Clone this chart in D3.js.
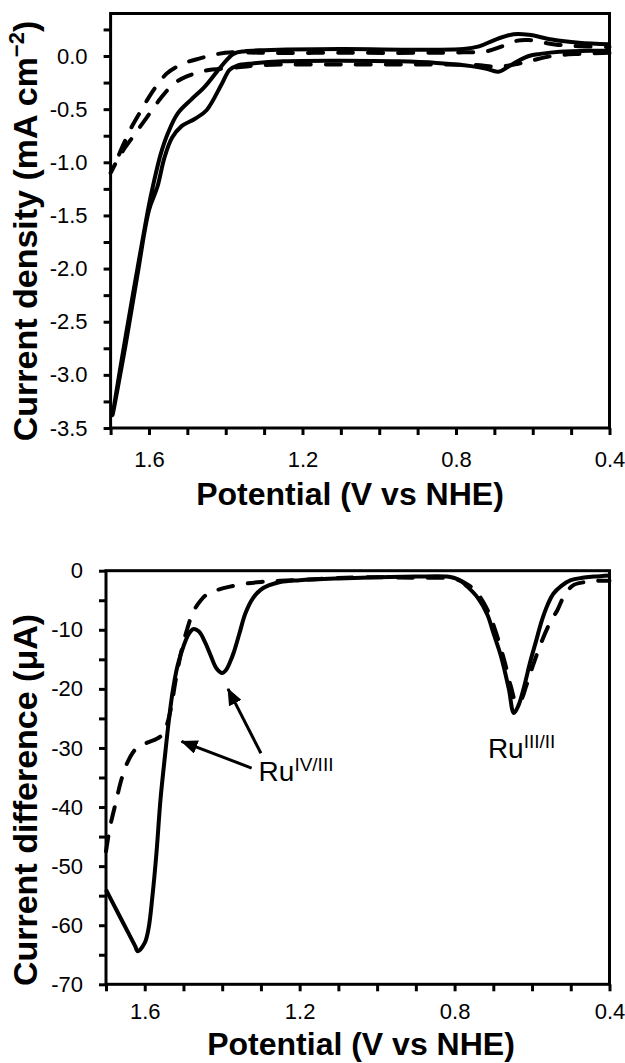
<!DOCTYPE html>
<html lang="en">
<head>
<meta charset="UTF-8"/>
<title>Ru complex CV and DPV</title>
<script src="https://d3js.org/d3.v7.min.js"></script>
<style>
  body { margin: 0; background: #fff; }
  svg { display: block; font-family: 'Liberation Sans', Arial, sans-serif; }
  .tick text { font-size: 22px; fill: #000; }
  .tick line { stroke: #000; stroke-width: 3; }
  .frame { fill: none; stroke: #000; stroke-width: 3; }
  .title { font-size: 32px; font-weight: bold; fill: #000; }
  .ytitle { font-size: 34px; }
  .trace { fill: none; stroke: #000; stroke-width: 4; stroke-linejoin: round; }
  .dashed { stroke-dasharray: 15 15; stroke-linecap: round; }
  .note { font-size: 28px; fill: #000; }
  .arrow { stroke: #000; stroke-width: 3; }
</style>
</head>
<body>
<svg width="625" height="1063"></svg>
<script>
// ---- top panel: cyclic voltammograms (mA cm-2) ----
const cvSolidFwdE = [0.40, 0.45, 0.53, 0.58, 0.61, 0.65, 0.69, 0.72, 0.76, 0.85, 0.95, 1.10, 1.25, 1.33, 1.37, 1.39, 1.41, 1.45, 1.48, 1.515, 1.54, 1.56, 1.578, 1.60, 1.63, 1.66, 1.695];
const cvSolidFwdJ = [0.05, 0.05, 0.04, 0.02, 0.0, -0.07, -0.148, -0.12, -0.095, -0.065, -0.05, -0.045, -0.05, -0.07, -0.09, -0.13, -0.26, -0.51, -0.59, -0.66, -0.77, -0.96, -1.23, -1.45, -2.06, -2.70, -3.38];
const cvSolidRevE = [1.66, 1.63, 1.60, 1.59, 1.57, 1.55, 1.525, 1.49, 1.455, 1.41, 1.38, 1.35, 1.30, 1.10, 0.90, 0.78, 0.74, 0.70, 0.65, 0.61, 0.55, 0.48, 0.40];
const cvSolidRevJ = [-2.62, -2.0, -1.40, -1.23, -0.93, -0.72, -0.54, -0.41, -0.29, -0.09, 0.02, 0.045, 0.055, 0.065, 0.06, 0.065, 0.09, 0.15, 0.205, 0.2, 0.155, 0.125, 0.11];

const cvDashFwdE = [0.40, 0.48, 0.55, 0.60, 0.64, 0.69, 0.75, 0.90, 1.10, 1.30, 1.38, 1.456, 1.50, 1.535, 1.57, 1.604, 1.64, 1.673, 1.70];
const cvDashFwdJ = [0.03, 0.02, 0.0, -0.04, -0.075, -0.10, -0.085, -0.08, -0.08, -0.085, -0.11, -0.14, -0.19, -0.26, -0.40, -0.57, -0.75, -0.92, -1.10];
const cvDashRevE = [1.69, 1.67, 1.647, 1.625, 1.604, 1.58, 1.552, 1.51, 1.465, 1.42, 1.378, 1.30, 1.10, 0.90, 0.78, 0.72, 0.68, 0.64, 0.61, 0.57, 0.52, 0.46, 0.40];
const cvDashRevJ = [-1.03, -0.86, -0.68, -0.54, -0.41, -0.28, -0.16, -0.07, -0.02, 0.02, 0.035, 0.03, 0.03, 0.03, 0.035, 0.045, 0.09, 0.145, 0.15, 0.125, 0.10, 0.09, 0.085];

// ---- bottom panel: differential pulse (uA) ----
const dpvSolidE = [1.70, 1.67, 1.64, 1.625, 1.618, 1.60, 1.59, 1.58, 1.57, 1.559, 1.548, 1.538, 1.528, 1.515, 1.50, 1.487, 1.475, 1.46, 1.445, 1.43, 1.415, 1.40, 1.39, 1.38, 1.37, 1.355, 1.34, 1.32, 1.30, 1.28, 1.25, 1.20, 1.10, 1.00, 0.90, 0.82, 0.79, 0.767, 0.74, 0.715, 0.70, 0.68, 0.66, 0.647, 0.635, 0.62, 0.605, 0.59, 0.575, 0.56, 0.545, 0.525, 0.50, 0.47, 0.44, 0.40];
const dpvSolidI = [-54.0, -57.8, -61.6, -63.5, -64.4, -63.0, -60.5, -55.0, -48.0, -38.5, -31.5, -25.5, -20.5, -16.0, -12.8, -10.8, -9.9, -10.3, -12.0, -14.3, -16.5, -17.3, -16.8, -15.5, -13.8, -10.5, -7.2, -4.6, -3.2, -2.5, -1.9, -1.6, -1.3, -1.1, -1.0, -1.0, -1.5, -2.7, -4.6, -7.5, -10.5, -14.5, -20.0, -24.1, -22.8, -19.5, -15.5, -12.0, -8.5, -5.8, -3.9, -2.6, -1.6, -1.2, -1.0, -0.8];
const dpvDashE = [1.70, 1.69, 1.675, 1.66, 1.645, 1.625, 1.61, 1.59, 1.57, 1.555, 1.545, 1.533, 1.52, 1.505, 1.49, 1.475, 1.455, 1.435, 1.41, 1.38, 1.34, 1.30, 1.25, 1.15, 1.04, 0.90, 0.80, 0.77, 0.745, 0.72, 0.698, 0.672, 0.655, 0.64, 0.628, 0.615, 0.60, 0.577, 0.555, 0.534, 0.515, 0.492, 0.46, 0.43, 0.40];
const dpvDashI = [-47.5, -43.5, -39.3, -35.3, -32.5, -30.3, -29.6, -29.0, -28.5, -27.8, -26.5, -23.5, -18.5, -13.5, -9.8, -7.0, -5.0, -3.8, -3.2, -2.7, -2.2, -1.9, -1.7, -1.4, -1.1, -1.2, -1.4, -2.2, -3.5, -6.0, -9.5, -15.1, -19.5, -22.4, -21.8, -19.5, -16.5, -12.3, -9.0, -6.6, -4.0, -2.4, -1.9, -1.7, -1.7];

// ---- ticks and notes ----
const potentialTicks = [1.6, 1.2, 0.8, 0.4];
const densityTicks = [0.0, -0.5, -1.0, -1.5, -2.0, -2.5, -3.0, -3.5];
const differenceTicks = [0, -10, -20, -30, -40, -50, -60, -70];
const noteLabels = ['IV/III', 'III/II'];
const noteE = [1.306, 0.714];
const noteI = [-35.6, -31.7];
const arrowFromE = [1.324, 1.300];
const arrowFromI = [-33.4, -30.9];
const arrowToE = [1.505, 1.385];
const arrowToI = [-28.9, -20.0];

const svg = d3.select('svg');

const defs = svg.append('defs');
defs.append('marker')
  .attr('id', 'head')
  .attr('markerUnits', 'userSpaceOnUse')
  .attr('markerWidth', 17).attr('markerHeight', 14)
  .attr('refX', 16).attr('refY', 7)
  .attr('orient', 'auto')
  .append('path').attr('d', 'M0,0 L17,7 L0,14 Z').attr('fill', '#000');

const zip = (xs, ys) => xs.map((v, i) => [v, ys[i]]);
const near = (list, v) => list.some(t => Math.abs(t - v) < 1e-6);

function panel(box, yDomain, yMinor, yLabels, yFmt, xPad, yPad) {
  const x = d3.scaleLinear().domain([1.7, 0.4]).range([box.left, box.right]);
  const y = d3.scaleLinear().domain(yDomain).range([box.bottom, box.top]);
  const xMinor = d3.range(4, 18).map(d => d / 10);

  svg.append('g')
    .attr('transform', `translate(0,${box.bottom})`)
    .call(d3.axisBottom(x).tickValues(xMinor).tickSize(7).tickPadding(xPad)
      .tickFormat(v => near(potentialTicks, v) ? v.toFixed(1) : ''))
    .call(g => g.select('.domain').remove());

  svg.append('g')
    .attr('transform', `translate(${box.left},0)`)
    .call(d3.axisLeft(y).tickValues(yMinor).tickSize(7).tickPadding(yPad)
      .tickFormat(v => near(yLabels, v) ? yFmt(v) : ''))
    .call(g => g.select('.domain').remove());

  svg.append('rect').attr('class', 'frame')
    .attr('x', box.left).attr('y', box.top)
    .attr('width', box.right - box.left).attr('height', box.bottom - box.top);

  const line = d3.line()
    .x(d => x(d[0])).y(d => y(d[1]))
    .curve(d3.curveCatmullRom.alpha(0.5));
  return { x, y, line };
}

// top panel
const cvBox = { left: 110.6, right: 609.5, top: 13.5, bottom: 428 };
const cv = panel(cvBox, [-3.5, 0.4], d3.range(-14, 2).map(d => d / 4), densityTicks,
  v => v.toFixed(1), 16, 16);

svg.append('path').attr('class', 'trace dashed')
  .attr('d', cv.line(zip(cvDashFwdE, cvDashFwdJ).concat(zip(cvDashRevE, cvDashRevJ))));
svg.append('path').attr('class', 'trace')
  .attr('d', cv.line(zip(cvSolidFwdE, cvSolidFwdJ).concat(zip(cvSolidRevE, cvSolidRevJ))));

const t1 = svg.append('text').attr('class', 'title ytitle')
  .attr('transform', 'rotate(-90)')
  .attr('x', -231).attr('y', 37)
  .attr('text-anchor', 'middle');
t1.append('tspan').text('Current density (mA cm');
t1.append('tspan').attr('font-size', '22px').attr('dy', -13).text('\u22122');
t1.append('tspan').attr('dy', 13).text(')');

svg.append('text').attr('class', 'title')
  .attr('x', 350).attr('y', 505).attr('text-anchor', 'middle')
  .text('Potential (V vs NHE)');

// bottom panel
const dpvBox = { left: 106, right: 609.5, top: 570.7, bottom: 984.3 };
const dpv = panel(dpvBox, [-70, 0], d3.range(-70, 1, 5), differenceTicks,
  v => String(v), 12, 16);

svg.append('path').attr('class', 'trace dashed')
  .attr('d', dpv.line(zip(dpvDashE, dpvDashI)));
svg.append('path').attr('class', 'trace')
  .attr('d', dpv.line(zip(dpvSolidE, dpvSolidI)));

noteLabels.forEach((lab, i) => {
  const t = svg.append('text').attr('class', 'note')
    .attr('x', dpv.x(noteE[i])).attr('y', dpv.y(noteI[i]));
  t.append('tspan').text('Ru');
  t.append('tspan').attr('font-size', '19px').attr('dy', -10).text(lab);
});

arrowFromE.forEach((e, i) => {
  svg.append('line').attr('class', 'arrow')
    .attr('x1', dpv.x(e)).attr('y1', dpv.y(arrowFromI[i]))
    .attr('x2', dpv.x(arrowToE[i])).attr('y2', dpv.y(arrowToI[i]))
    .attr('marker-end', 'url(#head)');
});

svg.append('text').attr('class', 'title ytitle')
  .attr('transform', 'rotate(-90)')
  .attr('x', -800).attr('y', 37)
  .attr('text-anchor', 'middle')
  .text('Current difference (\u03bcA)');

svg.append('text').attr('class', 'title')
  .attr('x', 361).attr('y', 1055).attr('text-anchor', 'middle')
  .text('Potential (V vs NHE)');
</script>
</body>
</html>
